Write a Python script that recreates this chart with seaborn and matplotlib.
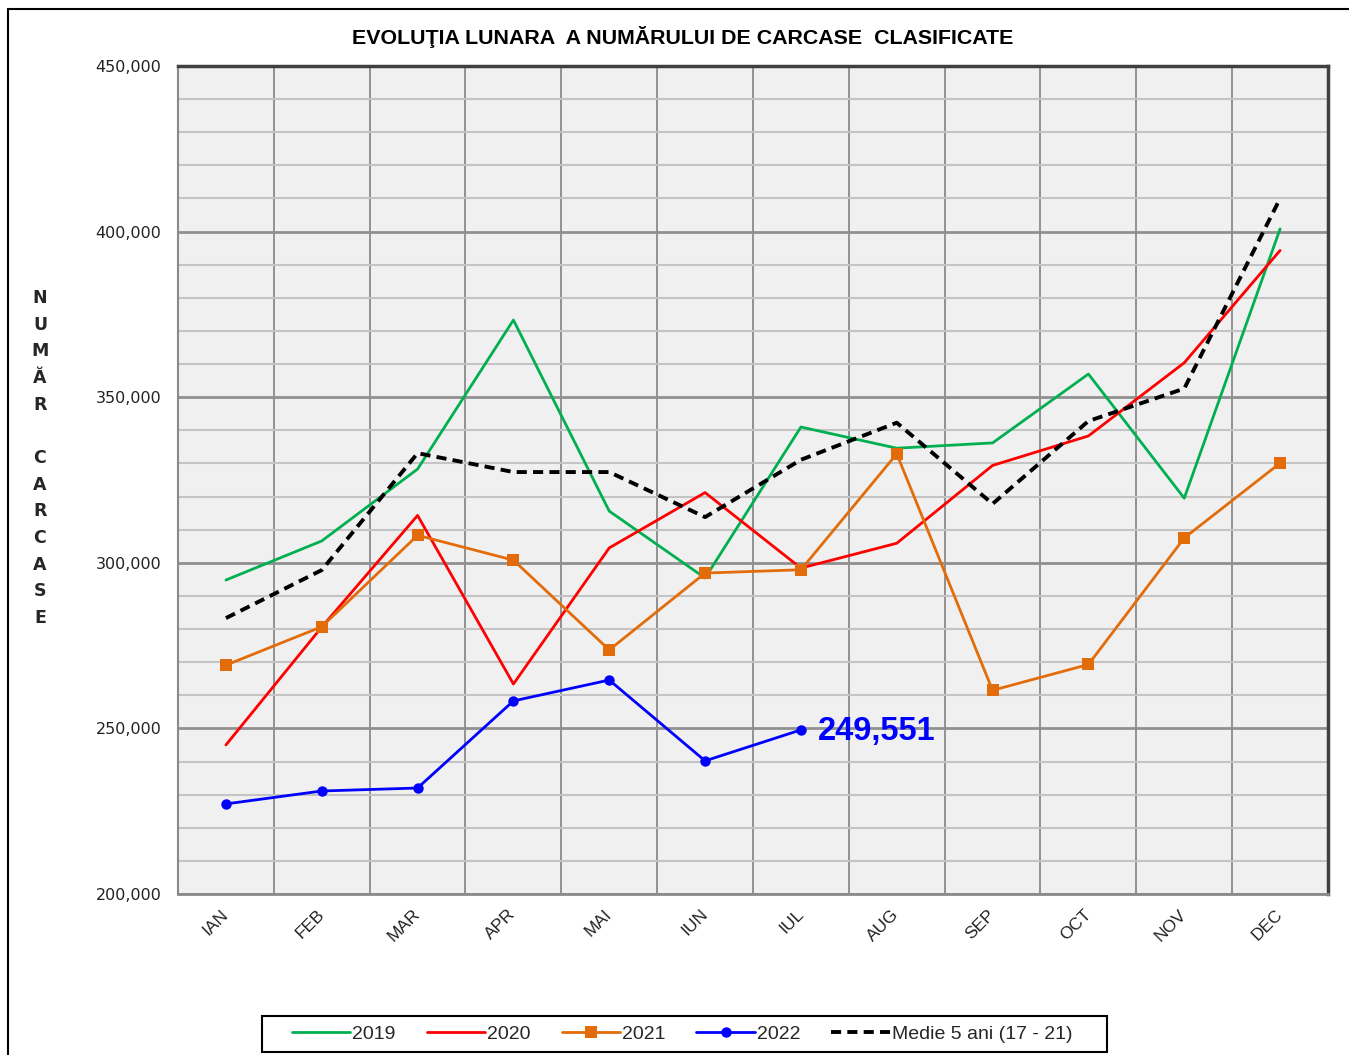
import numpy as np
import matplotlib
matplotlib.use("Agg")
import matplotlib.pyplot as plt
import seaborn as sns
from matplotlib.lines import Line2D
from matplotlib.patches import Rectangle
from matplotlib.ticker import FuncFormatter, MultipleLocator, FixedLocator

# ── Datos ─────────────────────────────────────────────────────────────────────
luni = ["IAN", "FEB", "MAR", "APR", "MAI", "IUN", "IUL", "AUG", "SEP", "OCT", "NOV", "DEC"]

v2019 = [294800, 306600, 328300, 373300, 315600, 295400, 341000, 334600, 336200, 357000, 319500, 400800]
v2020 = [245000, 280600, 314300, 263400, 304500, 321200, 298400, 305900, 329400, 338300, 360400, 394300]
v2021 = [269100, 280700, 308300, 300800, 273700, 296900, 297900, 332900, 261500, 269300, 307500, 330100]
v2022 = [227200, 231100, 232000, 258300, 264600, 240200, 249551]
medie = [283300, 297800, 333100, 327400, 327400, 313800, 331100, 342300, 317800, 342800, 352600, 410000]

titlu = "EVOLUŢIA LUNARA  A NUMĂRULUI DE CARCASE  CLASIFICATE"
eticheta_y = "NUMĂR CARCASE"

# ── Estilo ────────────────────────────────────────────────────────────────────
sns.set_style("white")
plt.rcParams["font.family"] = ["Liberation Sans", "DejaVu Sans"]

fig = plt.figure(figsize=(13.49, 10.55), dpi=100)
ax = fig.add_axes([178 / 1349, 1 - 894 / 1055, 1150 / 1349, 828 / 1055])
ax.set_facecolor("#f0f0f0")

x = np.arange(len(luni))

sns.lineplot(x=x, y=v2019, color="#00b050", lw=2, ax=ax, label="2019")
sns.lineplot(x=x, y=v2020, color="#ff0000", lw=2, ax=ax, label="2020")
sns.lineplot(x=x, y=v2021, color="#e36c0a", lw=2, marker="s", markersize=8,
             markeredgewidth=0, ax=ax, label="2021")
sns.lineplot(x=x[:len(v2022)], y=v2022, color="#0000ff", lw=2, marker="o",
             markersize=7.5, markeredgewidth=0, ax=ax, label="2022")
sns.lineplot(x=x, y=medie, color="black", lw=2.8, linestyle=(0, (2.6, 1.6)),
             ax=ax, label="Medie 5 ani (17 - 21)")

# valoarea ultimei luni 2022
ax.annotate(f"{v2022[-1]:,}", xy=(x[len(v2022) - 1], v2022[-1]), xytext=(12, -1),
            textcoords="offset points", color="#0000ff", fontsize=23.5,
            fontweight="bold", va="center", ha="left")

# ── Ejes y grilla ─────────────────────────────────────────────────────────────
ax.set_xlim(-0.5, 11.5)
ax.set_ylim(200000, 450000)

ax.yaxis.set_major_locator(MultipleLocator(50000))
ax.yaxis.set_minor_locator(MultipleLocator(10000))
ax.yaxis.set_major_formatter(FuncFormatter(lambda v, p: f"{int(v):,}"))
ax.grid(which="major", axis="y", color="#909090", lw=2)
ax.grid(which="minor", axis="y", color="#c4c4c4", lw=1.5)

# bordes de categoría como ticks mayores, nombres de mes en los centros
ax.xaxis.set_major_locator(FixedLocator(np.arange(-0.5, 12, 1)))
ax.xaxis.set_minor_locator(FixedLocator(x))
ax.set_xticklabels([])
ax.set_xticklabels(luni, minor=True, rotation=45, ha="right", va="center",
                   rotation_mode="anchor", fontsize=12.5, color="#222222")
ax.grid(which="major", axis="x", color="#8a8a8a", lw=1.3)
ax.tick_params(axis="x", which="major", direction="out", length=8, color="#8a8a8a", width=1)
ax.tick_params(axis="x", which="minor", length=0, pad=13)
ax.tick_params(axis="y", which="major", direction="out", length=8, color="#8a8a8a",
               width=1.3, labelsize=11.5, pad=4)
ax.tick_params(axis="y", which="minor", length=0)
for lbl in ax.get_yticklabels():
    lbl.set_family("DejaVu Sans")
    lbl.set_color("#222222")
ax.set_axisbelow(True)

ax.spines["top"].set_color("#404040")
ax.spines["top"].set_linewidth(2.5)
ax.spines["right"].set_color("#404040")
ax.spines["right"].set_linewidth(2.5)
ax.spines["left"].set_color("#8a8a8a")
ax.spines["left"].set_linewidth(1.5)
ax.spines["bottom"].set_color("#8a8a8a")
ax.spines["bottom"].set_linewidth(2)

ax.set_xlabel("")
ax.set_ylabel("")

# ── Título y etiqueta vertical ───────────────────────────────────────────────
fig.text(683 / 1349, 1 - 37 / 1055, titlu, ha="center", va="center",
         fontsize=15.4, fontweight="bold", color="black")

for i, ch in enumerate(eticheta_y):
    fig.text(40 / 1349, 1 - (298 + i * 26.67) / 1055, ch, ha="center", va="center",
             fontsize=12.5, fontweight="bold", family="DejaVu Sans")

# marco exterior del gráfico
fig.add_artist(Line2D([8 / 1349, 1], [1 - 9 / 1055, 1 - 9 / 1055], color="black", lw=1.5))
fig.add_artist(Line2D([8 / 1349, 8 / 1349], [0, 1 - 9 / 1055], color="black", lw=1.5))

# ── Leyenda ───────────────────────────────────────────────────────────────────
handles, labels = ax.get_legend_handles_labels()
ax.legend_.remove()
fig.add_artist(Rectangle((262 / 1349, 1 - 1052 / 1055), 845 / 1349, 36 / 1055,
                         transform=fig.transFigure, facecolor="white",
                         edgecolor="black", lw=1.5))
leg = fig.legend(handles, labels, loc="center", bbox_to_anchor=(682 / 1349, 1 - 1034 / 1055),
                 ncol=5, fontsize=14, frameon=False, handlelength=3, handletextpad=0.1,
                 columnspacing=1.6, borderpad=0.3)

fig.savefig("out.png", dpi=100)
